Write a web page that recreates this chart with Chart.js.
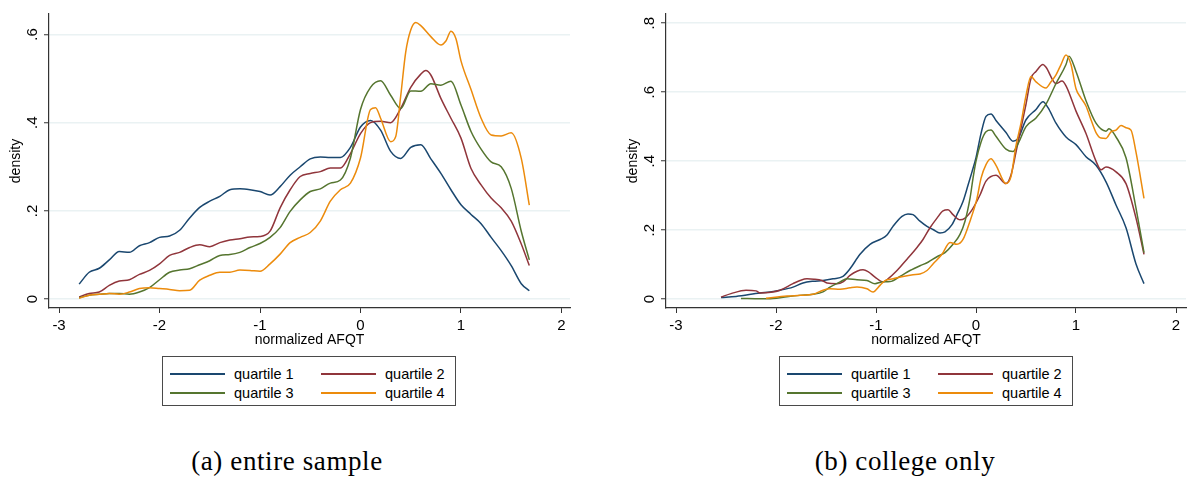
<!DOCTYPE html>
<html>
<head>
<meta charset="utf-8">
<title>AFQT density by quartile</title>
<script src="https://cdn.jsdelivr.net/npm/chart.js@4.4.0/dist/chart.umd.min.js"></script>
<style>
  body { margin: 0; background: #fff; width: 1190px; height: 479px; position: relative; overflow: hidden;
         font-family: "Liberation Sans", Arial, Helvetica, sans-serif; }
  canvas { position: absolute; top: 0; }
  .legend { position: absolute; top: 356px; width: 294px; height: 50px; box-sizing: border-box;
            border: 1px solid #4a4a4a; background: #fff; }
  .legend .item { position: absolute; height: 18px; font-size: 14.5px; line-height: 18px; color: #000; white-space: nowrap; }
  .legend .swatch { position: absolute; left: 0; top: 8px; width: 55px; height: 1.5px; }
  .legend .text { position: absolute; left: 64px; top: 0; }
  .caption { position: absolute; top: 446px; width: 400px; text-align: center;
             font-family: "Liberation Serif", "Times New Roman", serif; font-size: 27px; letter-spacing: 0.6px; color: #000; }
</style>
</head>
<body>
<canvas id="chartAll" width="595" height="350" style="left:0"></canvas>
<canvas id="chartCollege" width="595" height="350" style="left:595px"></canvas>
<div class="legend" id="legendAll" style="left:162px"></div>
<div class="legend" id="legendCollege" style="left:779px"></div>
<div class="caption" style="left:87px">(a) entire sample</div>
<div class="caption" style="left:705px">(b) college only</div>

<script>
const seriesLabels = ["quartile 1", "quartile 2", "quartile 3", "quartile 4"];
const seriesColors = ["#1a476f", "#90353b", "#55752f", "#ec8b0c"];

const xTicks = [-3, -2, -1, 0, 1, 2];
const yTicksAll = [0, 0.2, 0.4, 0.6];
const yTicksCollege = [0, 0.2, 0.4, 0.6, 0.8];

// entire sample
const q1AllX = [-2.8,-2.7,-2.6,-2.5,-2.4,-2.3,-2.2,-2.1,-2.0,-1.9,-1.8,-1.7,-1.6,-1.5,-1.4,-1.3,-1.2,-1.1,-1.0,-0.9,-0.8,-0.7,-0.6,-0.5,-0.4,-0.3,-0.2,-0.1,0,0.1,0.2,0.3,0.4,0.5,0.6,0.7,0.8,0.9,1.0,1.1,1.2,1.3,1.4,1.5,1.6,1.68];
const q1AllY = [.034,.061,.070,.089,.108,.106,.121,.128,.140,.143,.156,.184,.208,.222,.233,.248,.250,.248,.244,.236,.255,.281,.300,.318,.322,.321,.321,.344,.390,.405,.383,.335,.319,.344,.350,.318,.285,.248,.214,.192,.171,.140,.110,.076,.035,.019];

const q2AllX = [-2.8,-2.7,-2.6,-2.5,-2.4,-2.3,-2.2,-2.1,-2.0,-1.9,-1.8,-1.7,-1.6,-1.5,-1.4,-1.3,-1.2,-1.1,-1.0,-0.9,-0.8,-0.7,-0.6,-0.5,-0.4,-0.3,-0.2,-0.1,0,0.1,0.2,0.3,0.4,0.5,0.6,0.65,0.7,0.8,0.9,1.0,1.1,1.2,1.3,1.4,1.5,1.6,1.68];
const q2AllY = [.005,.013,.016,.031,.041,.044,.056,.065,.080,.099,.106,.117,.123,.119,.128,.134,.137,.141,.142,.154,.207,.248,.278,.285,.289,.297,.297,.330,.375,.400,.403,.400,.432,.480,.510,.518,.508,.455,.410,.365,.296,.259,.229,.207,.177,.125,.076];

const q3AllX = [-2.8,-2.7,-2.6,-2.5,-2.4,-2.3,-2.2,-2.1,-2.0,-1.9,-1.8,-1.7,-1.6,-1.5,-1.4,-1.3,-1.2,-1.1,-1.0,-0.9,-0.8,-0.7,-0.6,-0.5,-0.4,-0.3,-0.2,-0.1,0,0.1,0.2,0.3,0.4,0.5,0.6,0.7,0.8,0.9,1.0,1.1,1.2,1.3,1.4,1.5,1.6,1.68];
const q3AllY = [.003,.009,.011,.013,.013,.011,.016,.026,.044,.061,.066,.069,.078,.087,.099,.101,.106,.117,.126,.140,.162,.199,.225,.244,.250,.263,.270,.320,.430,.480,.495,.462,.432,.472,.471,.488,.485,.494,.440,.380,.340,.311,.300,.251,.154,.089];

const q4AllX = [-2.8,-2.7,-2.6,-2.5,-2.4,-2.3,-2.2,-2.1,-2.0,-1.9,-1.8,-1.7,-1.6,-1.5,-1.4,-1.3,-1.2,-1.1,-1.0,-0.9,-0.8,-0.7,-0.6,-0.5,-0.4,-0.3,-0.2,-0.1,0,0.1,0.15,0.2,0.3,0.35,0.4,0.45,0.5,0.55,0.6,0.7,0.8,0.85,0.9,0.95,1.0,1.1,1.2,1.3,1.4,1.5,1.6,1.68];
const q4AllY = [.002,.009,.011,.013,.011,.016,.024,.026,.024,.022,.019,.020,.043,.054,.061,.061,.066,.065,.063,.080,.102,.128,.140,.151,.177,.222,.248,.263,.320,.430,.434,.410,.357,.368,.460,.560,.610,.627,.620,.595,.576,.585,.607,.590,.540,.475,.410,.372,.370,.377,.319,.213];

// college only
const q1ColX = [-2.55,-2.4,-2.16,-2.06,-1.96,-1.83,-1.73,-1.63,-1.53,-1.43,-1.33,-1.26,-1.16,-1.06,-0.96,-0.89,-0.83,-0.74,-0.68,-0.63,-0.56,-0.49,-0.43,-0.36,-0.31,-0.24,-0.19,-0.13,-0.08,-0.04,0,0.05,0.1,0.15,0.2,0.3,0.37,0.42,0.5,0.6,0.67,0.72,0.8,0.9,1.0,1.1,1.2,1.3,1.4,1.5,1.6,1.68];
const q1ColY = [.005,.008,.018,.021,.026,.035,.047,.052,.054,.059,.066,.088,.130,.159,.173,.186,.211,.240,.247,.245,.226,.211,.202,.192,.195,.216,.245,.283,.330,.369,.410,.480,.530,.537,.518,.483,.458,.465,.520,.550,.572,.555,.510,.470,.448,.413,.388,.340,.273,.207,.102,.045];

const q2ColX = [-2.55,-2.45,-2.3,-2.2,-2.16,-2.05,-1.96,-1.83,-1.76,-1.69,-1.62,-1.54,-1.49,-1.39,-1.33,-1.26,-1.19,-1.13,-1.08,-1.01,-0.93,-0.88,-0.79,-0.69,-0.59,-0.53,-0.46,-0.39,-0.33,-0.28,-0.23,-0.16,-0.11,-0.04,0.04,0.1,0.2,0.3,0.35,0.4,0.5,0.55,0.6,0.67,0.7,0.8,0.86,0.9,1.0,1.1,1.2,1.25,1.3,1.4,1.5,1.6,1.68];
const q2ColY = [.006,.016,.026,.024,.018,.020,.026,.045,.054,.059,.058,.054,.047,.045,.050,.069,.081,.085,.080,.064,.050,.059,.083,.116,.150,.173,.207,.235,.256,.259,.245,.230,.235,.259,.302,.342,.359,.335,.360,.426,.565,.640,.660,.680,.672,.625,.632,.618,.545,.480,.400,.375,.383,.369,.335,.235,.130];

const q3ColX = [-2.35,-2.16,-2.03,-1.89,-1.76,-1.63,-1.53,-1.46,-1.36,-1.29,-1.19,-1.09,-1.01,-0.94,-0.86,-0.76,-0.66,-0.56,-0.48,-0.39,-0.31,-0.23,-0.16,-0.11,-0.06,-0.03,0,0.05,0.1,0.15,0.2,0.3,0.37,0.42,0.5,0.6,0.7,0.8,0.9,0.93,1.0,1.1,1.2,1.3,1.33,1.4,1.5,1.6,1.68];
const q3ColY = [.002,.001,.002,.007,.011,.014,.021,.035,.050,.059,.056,.054,.045,.050,.051,.066,.083,.097,.107,.123,.135,.159,.188,.226,.292,.350,.400,.455,.485,.490,.472,.435,.428,.450,.500,.525,.565,.625,.680,.704,.660,.575,.510,.487,.494,.470,.410,.264,.135];

const q4ColX = [-2.1,-1.89,-1.76,-1.63,-1.53,-1.46,-1.36,-1.26,-1.19,-1.09,-1.03,-0.96,-0.91,-0.83,-0.73,-0.63,-0.56,-0.49,-0.43,-0.34,-0.26,-0.19,-0.13,-0.06,0.01,0.05,0.1,0.15,0.2,0.3,0.35,0.4,0.45,0.5,0.55,0.6,0.7,0.75,0.8,0.85,0.9,0.95,1.0,1.05,1.1,1.15,1.2,1.25,1.3,1.35,1.4,1.45,1.5,1.55,1.6,1.68];
const q4ColY = [.003,.009,.011,.014,.026,.030,.029,.033,.035,.030,.021,.040,.054,.059,.066,.071,.073,.083,.102,.130,.164,.159,.173,.226,.292,.350,.390,.407,.388,.335,.355,.445,.510,.590,.645,.630,.612,.630,.650,.680,.708,.680,.610,.583,.560,.520,.483,.467,.466,.485,.490,.503,.497,.490,.426,.292];

const tickFont = { family: "'Liberation Sans', Arial, Helvetica, sans-serif", size: 15 };
const titleFont = { family: "'Liberation Sans', Arial, Helvetica, sans-serif", size: 14 };

function toPoints(xs, ys) {
  return xs.map((x, i) => ({ x: x, y: ys[i] }));
}

// Stata style: ".2" rather than "0.2"
function formatTick(v) {
  return v === 0 ? "0" : String(v).replace(/^(-?)0\./, "$1.");
}

function makeDatasets(seriesX, seriesY) {
  return seriesLabels.map((label, i) => ({
    label: label,
    data: toPoints(seriesX[i], seriesY[i]),
    borderColor: seriesColors[i],
    borderWidth: 1.5,
    pointRadius: 0,
    fill: false,
    cubicInterpolationMode: "monotone",
    order: seriesLabels.length - i
  }));
}

function makeOptions(xMin, xMax, yMin, yMax, yTicks, padding) {
  return {
    responsive: false,
    animation: false,
    layout: { padding: padding },
    plugins: { legend: { display: false }, tooltip: { enabled: false } },
    scales: {
      x: {
        type: "linear",
        min: xMin,
        max: xMax,
        afterBuildTicks: (axis) => { axis.ticks = xTicks.map(v => ({ value: v })); },
        afterFit: (axis) => { axis.height = 42; },
        grid: { drawOnChartArea: false, tickLength: 5, tickColor: "#333", tickWidth: 1 },
        border: { color: "#333", width: 1.2 },
        ticks: { font: tickFont, color: "#000", padding: 4, maxRotation: 0, callback: formatTick },
        title: { display: true, text: "normalized AFQT", font: titleFont, color: "#000", padding: { top: 0, bottom: 1.5 } }
      },
      y: {
        type: "linear",
        min: yMin,
        max: yMax,
        afterBuildTicks: (axis) => { axis.ticks = yTicks.map(v => ({ value: v })); },
        afterFit: (axis) => { axis.width = 49; },
        grid: { color: "#eaf2f3", lineWidth: 1.5, tickLength: 5, tickColor: "#333", tickWidth: 1 },
        border: { color: "#333", width: 1.2 },
        ticks: { font: tickFont, color: "#000", padding: 5, minRotation: 90, maxRotation: 90,
                 crossAlign: "center", callback: formatTick },
        title: { display: true, text: "density", font: titleFont, color: "#000", padding: { top: 8, bottom: 0 } }
      }
    }
  };
}

function buildLegend(id, chart) {
  const box = document.getElementById(id);
  chart.data.datasets.forEach((ds, i) => {
    const item = document.createElement("div");
    item.className = "item";
    item.style.left = (7 + (i % 2) * 151) + "px";
    item.style.top = (8 + Math.floor(i / 2) * 19) + "px";
    const swatch = document.createElement("span");
    swatch.className = "swatch";
    swatch.style.background = ds.borderColor;
    const text = document.createElement("span");
    text.className = "text";
    text.textContent = ds.label;
    item.appendChild(swatch);
    item.appendChild(text);
    box.appendChild(item);
  });
}

const chartAll = new Chart(document.getElementById("chartAll"), {
  type: "line",
  data: { datasets: makeDatasets([q1AllX, q2AllX, q3AllX, q4AllX], [q1AllY, q2AllY, q3AllY, q4AllY]) },
  options: makeOptions(-3.1, 2.085, -0.0201, 0.6463, yTicksAll, { left: 0, right: 25, top: 10, bottom: 0 })
});

const chartCollege = new Chart(document.getElementById("chartCollege"), {
  type: "line",
  data: { datasets: makeDatasets([q1ColX, q2ColX, q3ColX, q4ColX], [q1ColY, q2ColY, q3ColY, q4ColY]) },
  options: makeOptions(-3.1, 2.1, -0.0256, 0.8265, yTicksCollege, { left: 22, right: 4, top: 9, bottom: 0 })
});

buildLegend("legendAll", chartAll);
buildLegend("legendCollege", chartCollege);
</script>
</body>
</html>
